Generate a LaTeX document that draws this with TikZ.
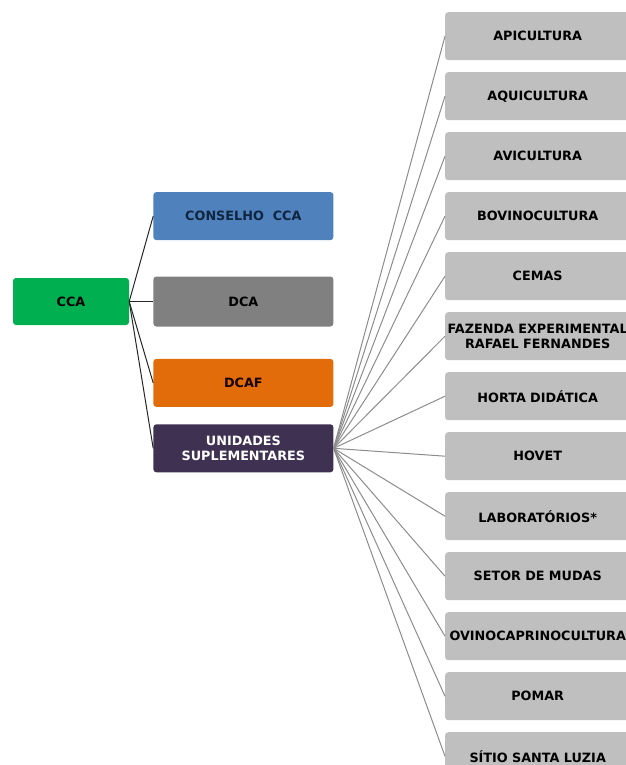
\documentclass[tikz,border=0pt]{standalone}
\usepackage{fontspec}
\setmainfont{DejaVu Sans}
\usetikzlibrary{positioning}
\definecolor{ccagreen}{HTML}{00B050}
\definecolor{conblue}{HTML}{4F81BD}
\definecolor{dcagray}{HTML}{808080}
\definecolor{dcaforange}{HTML}{E36C0A}
\definecolor{unidpurple}{HTML}{3F3151}
\definecolor{unitgray}{HTML}{BFBFBF}
\definecolor{linegray}{HTML}{8C8C8C}
\definecolor{navytext}{HTML}{10253F}
\tikzstyle{obox}=[rectangle, rounded corners=3pt, minimum height=48pt, inner sep=2pt,
                  align=center, font=\fontsize{12.8}{15}\selectfont]
\tikzstyle{midbox}=[obox, minimum width=180pt]
\tikzstyle{ubox}=[obox, fill=unitgray, minimum width=185pt, text width=177pt]
\tikzstyle{pline}=[-, line width=1pt, draw=black!85]
\tikzstyle{uline}=[-, line width=1pt, draw=linegray]
\newcommand{\wideline}[1]{\makebox[\linewidth]{#1}}

\begin{document}
\begin{tikzpicture}[node distance=0mm]
\useasboundingbox (0,0) rectangle (625pt,-765pt);

\node (CCA) [obox, fill=ccagreen, minimum width=116pt, minimum height=47pt]
 at (71pt,-301.5pt) {\textbf{CCA}};
\node (DCA) [midbox, fill=dcagray, minimum height=50pt, right=24pt of CCA] {\textbf{DCA}};
 \draw[pline] (CCA.east) -- (DCA.west);
\node (CONSELHO) [midbox, fill=conblue, text=navytext, above=36pt of DCA] {\textbf{CONSELHO\ \ CCA}};
 \draw[pline] (CCA.east) -- (CONSELHO.west);
\node (DCAF) [midbox, fill=dcaforange, text=black!90!red, below=32pt of DCA] {\textbf{DCAF}};
 \draw[pline] (CCA.east) -- (DCAF.west);
\node (UNID) [midbox, fill=unidpurple, text=white, below=17pt of DCAF] {\textbf{UNIDADES}\\\textbf{SUPLEMENTARES}};
 \draw[pline] (CCA.east) -- (UNID.west);

\node (APIC) [ubox, anchor=north west] at (445pt,-12pt) {\textbf{APICULTURA}};
 \draw[uline] (UNID.east) -- (APIC.west);
\node (AQUI) [ubox, below=11.6pt of APIC] {\textbf{AQUICULTURA}};
 \draw[uline] (UNID.east) -- (AQUI.west);
\node (AVIC) [ubox, below=11.6pt of AQUI] {\textbf{AVICULTURA}};
 \draw[uline] (UNID.east) -- (AVIC.west);
\node (BOVI) [ubox, below=11.6pt of AVIC] {\textbf{BOVINOCULTURA}};
 \draw[uline] (UNID.east) -- (BOVI.west);
\node (CEMAS) [ubox, below=11.6pt of BOVI] {\textbf{CEMAS}};
 \draw[uline] (UNID.east) -- (CEMAS.west);
\node (FAZENDA) [ubox, below=11.6pt of CEMAS] {\wideline{\textbf{FAZENDA EXPERIMENTAL}}\\\textbf{RAFAEL FERNANDES}};
 \draw[uline] (UNID.east) -- (FAZENDA.west);
\node (HORTA) [ubox, below=11.6pt of FAZENDA] {\textbf{HORTA DIDÁTICA}};
 \draw[uline] (UNID.east) -- (HORTA.west);
\node (HOVET) [ubox, below=11.6pt of HORTA] {\textbf{HOVET}};
 \draw[uline] (UNID.east) -- (HOVET.west);
\node (LAB) [ubox, below=11.6pt of HOVET] {\textbf{LABORATÓRIOS*}};
 \draw[uline] (UNID.east) -- (LAB.west);
\node (SETOR) [ubox, below=11.6pt of LAB] {\textbf{SETOR DE MUDAS}};
 \draw[uline] (UNID.east) -- (SETOR.west);
\node (OVINO) [ubox, below=11.6pt of SETOR] {\wideline{\textbf{OVINOCAPRINOCULTURA}}};
 \draw[uline] (UNID.east) -- (OVINO.west);
\node (POMAR) [ubox, below=11.6pt of OVINO] {\textbf{POMAR}};
 \draw[uline] (UNID.east) -- (POMAR.west);
\node (SITIO) [ubox, below=11.6pt of POMAR] {\textbf{SÍTIO SANTA LUZIA}};
 \draw[uline] (UNID.east) -- (SITIO.west);

\end{tikzpicture}
\end{document}
